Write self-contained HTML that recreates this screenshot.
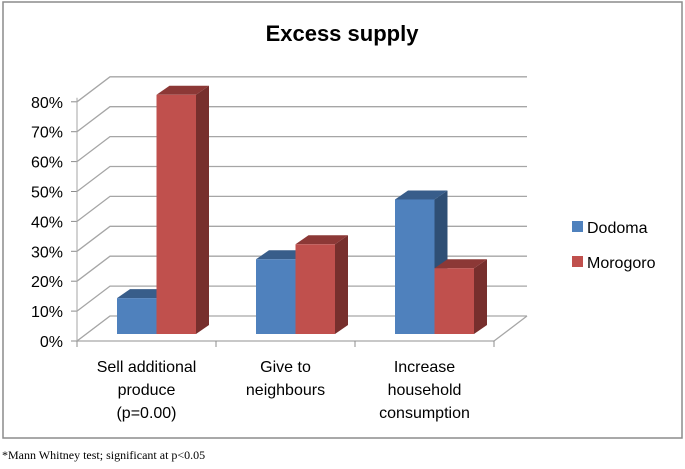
<!DOCTYPE html>
<html><head><meta charset="utf-8"><style>
body{margin:0;background:#fff;width:685px;height:464px;overflow:hidden}
svg text{font-family:"Liberation Sans",sans-serif}
</style></head><body>
<svg id="c" width="685" height="464">
<rect x="3" y="2" width="679" height="436" fill="#fff" stroke="#8c8c8c" stroke-width="1.5"/>
<text x="342" y="41" text-anchor="middle" font-size="22" font-weight="bold">Excess supply</text>
<g id="grid"></g>
<g id="bars"></g>
<g id="axes"></g>
<g>
<rect x="572" y="221" width="11" height="11" fill="#4f81bd"/>
<text x="587" y="233" font-size="16">Dodoma</text>
<rect x="572" y="256" width="11" height="11" fill="#c0504d"/>
<text x="587" y="268" font-size="16">Morogoro</text>
</g>
<text x="2" y="459" font-size="12" style="font-family:'Liberation Serif',serif">*Mann Whitney test; significant at p&lt;0.05</text>
</svg>
<script>
const categories = [["Sell additional","produce","(p=0.00)"],["Give to","neighbours"],["Increase","household","consumption"]];
const dodoma = [12, 25, 45];
const morogoro = [80, 30, 22];
const yTicks = [0,10,20,30,40,50,60,70,80];
const yTickLabels = ["0%","10%","20%","30%","40%","50%","60%","70%","80%"];

const NS="http://www.w3.org/2000/svg";
const x0=77, x1=494, yBase=341, pxPer=2.99, DX=33, DY=-25;
const catW=(x1-x0)/categories.length;
const y=v=>yBase - v*pxPer;
function mk(tag,attrs,parent){const e=document.createElementNS(NS,tag);for(const k in attrs)e.setAttribute(k,attrs[k]);parent.appendChild(e);return e;}
const grid=document.getElementById('grid'), bars=document.getElementById('bars'), axes=document.getElementById('axes');
yTicks.forEach((t,i)=>{
  const gy=y(t);
  const l=mk('polyline',{points:`${x0},${gy} ${x0+DX},${gy+DY} ${x1+DX},${gy+DY}`,fill:'none',stroke:'#a6a6a6','stroke-width':1.3},grid);
  
  
  mk('line',{x1:x0-6,y1:gy,x2:x0,y2:gy,stroke:'#8c8c8c'},axes);
  const tx=mk('text',{x:x0-14,y:gy+6,'text-anchor':'end','font-size':16},axes);
  tx.textContent=yTickLabels[i];
  
  
});
mk('line',{x1:x0,y1:y(0),x2:x0+DX,y2:y(0)+DY,stroke:'#a6a6a6'},grid);
mk('polyline',{points:`${x1},${yBase} ${x1+DX},${yBase+DY}`,fill:'none',stroke:'#a6a6a6','stroke-width':1.3},grid);
mk('line',{x1:x0,y1:yBase,x2:x0,y2:y(80)-4,stroke:'#a6a6a6'},axes);
mk('line',{x1:x0,y1:yBase,x2:x1,y2:yBase,stroke:'#a6a6a6','stroke-width':1.3},axes);
for(let i=0;i<=categories.length;i++){mk('line',{x1:x0+i*catW,y1:yBase,x2:x0+i*catW,y2:yBase+6,stroke:'#8c8c8c'},axes);}
const bw=39.5, bdx=13, bdy=-9, base=334;
const by=v=>base - v*pxPer;
function bar(x,v,front,top,side,name){
  const g=mk('g',{},bars);
  
  
  const t=by(v);
  mk('polygon',{points:`${x+bw},${t} ${x+bw+bdx},${t+bdy} ${x+bw+bdx},${base+bdy} ${x+bw},${base}`,fill:side},g);
  mk('polygon',{points:`${x},${t} ${x+bdx},${t+bdy} ${x+bw+bdx},${t+bdy} ${x+bw},${t}`,fill:top},g);
  mk('rect',{x:x,y:t,width:bw,height:base-t,fill:front},g);
}
categories.forEach((c,i)=>{
  const cx=x0+catW*(i+0.5)+10;
  bar(cx-bw,dodoma[i],'#4f81bd','#385d8a','#2f4f75','bar-dodoma-'+i);
  bar(cx,morogoro[i],'#c0504d','#8c3836','#772f2d','bar-morogoro-'+i);
  c.forEach((line,j)=>{
    const t=mk('text',{x:x0+catW*(i+0.5),y:372+j*23,'text-anchor':'middle','font-size':16},axes);
    t.textContent=line;
    
    
  });
});
</script>
</body></html>
